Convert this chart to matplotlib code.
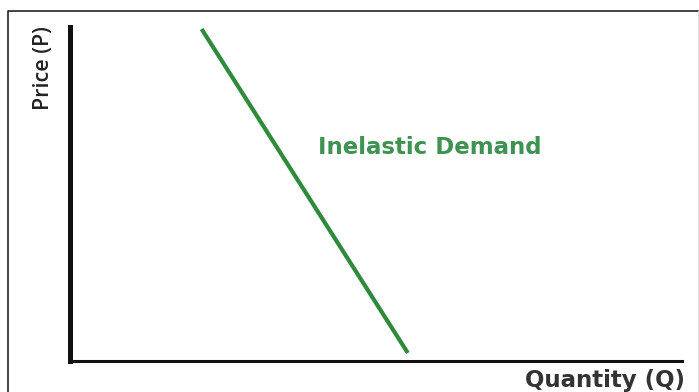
import matplotlib.pyplot as plt
from matplotlib.lines import Line2D

# demand curve end points (quantity, price) on a 0-100 scale
quantity = [21.5, 55.2]
price = [99.4, 2.4]

curve_label = "Inelastic Demand"
x_label = "Quantity (Q)"
y_label = "Price (P)"

W, H = 699, 392
fig = plt.figure(figsize=(W / 100, H / 100), dpi=100)
fig.patch.set_facecolor('white')

# axes box in pixels: left 70, right 682, top 27, bottom 361
ax = fig.add_axes([70 / W, (H - 361) / H, (682 - 70) / W, (361 - 27) / H])
ax.set_xlim(0, 100)
ax.set_ylim(0, 100)
ax.plot(quantity, price, color='#2f8a3c', lw=3.0, solid_capstyle='butt')

ax.text(40.5, 63.8, curve_label, color='#3f9350', fontsize=16.5,
        fontweight='bold', family='DejaVu Sans', ha='left', va='center')

for s in ['top', 'right']:
    ax.spines[s].set_visible(False)
ax.spines['left'].set_linewidth(3.6)
ax.spines['bottom'].set_linewidth(2.2)
ax.spines['left'].set_color('#111111')
ax.spines['bottom'].set_color('#111111')
ax.set_xticks([])
ax.set_yticks([])

fig.text(685 / W, 1 - 380 / H, x_label, fontsize=16.5, fontweight='bold',
         color='#333333', ha='right', va='center')
fig.text(43 / W, 1 - 68 / H, y_label, fontsize=15.5, rotation=90,
         family='Open Sans', fontweight='semibold', color='#222222',
         ha='center', va='center')

# frame around the picture (open at the bottom)
fx = [8 / W, 8 / W, 698 / W, 698 / W]
fy = [0, 1 - 11 / H, 1 - 11 / H, 0]
fig.add_artist(Line2D(fx[:3], fy[:3], color='#222222', lw=1.2,
                      transform=fig.transFigure))
fig.add_artist(Line2D(fx[2:], fy[2:], color='#dddddd', lw=0.8,
                      transform=fig.transFigure))

fig.savefig('out.png', dpi=100)
